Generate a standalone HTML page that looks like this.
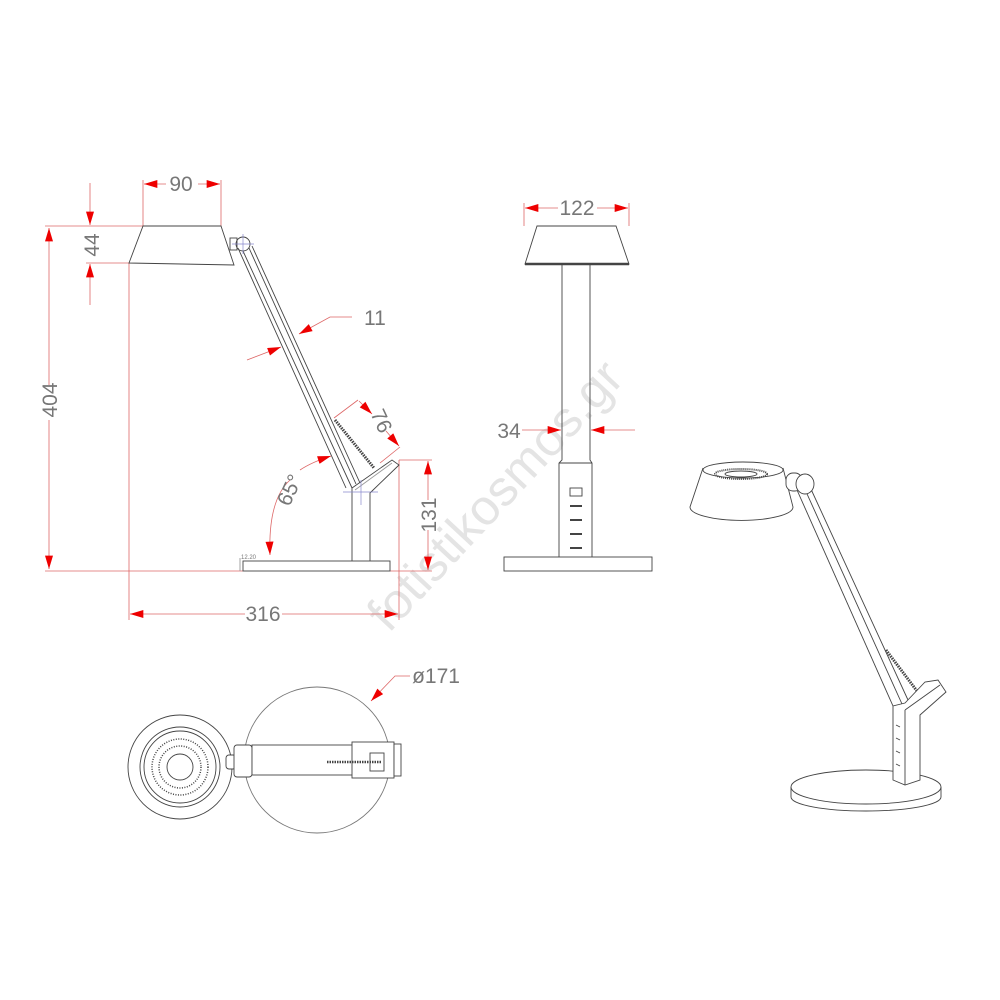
<!DOCTYPE html>
<html><head><meta charset="utf-8"><style>
html,body{margin:0;padding:0;background:#fff;}
svg{display:block;}
text{font-family:"Liberation Sans",sans-serif;fill:#777;}
</style></head><body>
<svg width="1000" height="1000" viewBox="0 0 1000 1000" xmlns="http://www.w3.org/2000/svg">
<defs>
<marker id="a" viewBox="0 0 10 6" refX="10" refY="3" markerWidth="20" markerHeight="8" orient="auto-start-reverse" markerUnits="userSpaceOnUse"><path d="M0,0 L10,3 L0,6z" fill="#e00"/></marker>
</defs>
<!-- watermark -->
<text x="500" y="510" font-size="50" style="fill:#e4e4e4" transform="rotate(-47 500 500)" text-anchor="middle">fotistikosmos.gr</text>

<g stroke="#d66" stroke-width="0.8" fill="none">
<line x1="45" y1="226" x2="143" y2="226"/>
<line x1="45" y1="571" x2="243" y2="571"/>
<line x1="143" y1="180" x2="143" y2="226"/>
<line x1="221" y1="180" x2="221" y2="226"/>
<line x1="86" y1="263" x2="129" y2="263"/>
<line x1="129" y1="263" x2="129" y2="620"/>
<line x1="399" y1="460" x2="399" y2="620"/>
<line x1="399" y1="460" x2="432" y2="460"/>
<line x1="390" y1="571" x2="432" y2="571"/>
<line x1="358" y1="400" x2="334" y2="418"/>
<line x1="400" y1="447" x2="380" y2="463"/>
<line x1="524" y1="203" x2="524" y2="226"/>
<line x1="629" y1="203" x2="629" y2="226"/>
</g>
<g stroke="#d66" stroke-width="0.8" fill="none">
<line x1="49" y1="228" x2="49" y2="385" marker-start="url(#a)"/>
<line x1="49" y1="420" x2="49" y2="569" marker-end="url(#a)"/>
<line x1="90" y1="183" x2="90" y2="225" marker-end="url(#a)"/>
<line x1="90" y1="305" x2="90" y2="264" marker-end="url(#a)"/>
<line x1="166" y1="184" x2="144" y2="184" marker-end="url(#a)"/>
<line x1="198" y1="184" x2="220" y2="184" marker-end="url(#a)"/>
<line x1="245" y1="614" x2="130" y2="614" marker-end="url(#a)"/>
<line x1="282" y1="614" x2="398" y2="614" marker-end="url(#a)"/>
<line x1="428" y1="500" x2="428" y2="461" marker-end="url(#a)"/>
<line x1="428" y1="530" x2="428" y2="570" marker-end="url(#a)"/>
<polyline points="352,317 330,317 299,334" marker-end="url(#a)"/>
<line x1="247" y1="360" x2="281" y2="347" marker-end="url(#a)"/>
<line x1="372" y1="414" x2="359" y2="401" marker-start="url(#a)"/>
<line x1="386" y1="431" x2="399" y2="446" marker-end="url(#a)"/>
<path d="M270,555 Q268,500 290,480" marker-start="url(#a)"/>
<path d="M300,470 Q312,462 331,456" marker-end="url(#a)"/>
<line x1="558" y1="208" x2="525" y2="208" marker-end="url(#a)"/>
<line x1="597" y1="208" x2="628" y2="208" marker-end="url(#a)"/>
<line x1="522" y1="430" x2="561" y2="430" marker-end="url(#a)"/>
<line x1="635" y1="430" x2="591" y2="430" marker-end="url(#a)"/>
<polyline points="410,676 395,676 371,701" marker-end="url(#a)"/>
</g>

<g font-size="21">
<text x="181" y="191" text-anchor="middle">90</text>
<text x="0" y="0" text-anchor="middle" transform="translate(99,245) rotate(-90)">44</text>
<text x="0" y="0" text-anchor="middle" transform="translate(57,400) rotate(-90)">404</text>
<text x="364" y="325">11</text>
<text x="0" y="0" text-anchor="middle" transform="translate(375,424) rotate(65)">76</text>
<text x="0" y="0" text-anchor="middle" transform="translate(296,493) rotate(-65)">65°</text>
<text x="0" y="0" text-anchor="middle" transform="translate(436,515) rotate(-90)">131</text>
<text x="263" y="621" text-anchor="middle">316</text>
<text x="577" y="215" text-anchor="middle">122</text>
<text x="509" y="438" text-anchor="middle">34</text>
<text x="436" y="683" text-anchor="middle">ø171</text>
<text x="241" y="559" font-size="6">12.20</text>
</g>

<!-- SIDE VIEW -->
<g stroke="#444" stroke-width="0.9" fill="none">
<polygon points="143,226 221,226 234,265 129,263"/>
<rect x="230" y="238" width="7" height="12"/>
<circle cx="243" cy="244" r="7"/>
<line x1="238" y1="248" x2="346" y2="488"/>
<line x1="243" y1="251" x2="352" y2="488"/>
<line x1="249" y1="248" x2="356" y2="484"/>
<line x1="252" y1="246" x2="360" y2="483"/>
<line x1="335" y1="420" x2="374" y2="468" stroke-width="3" stroke-dasharray="1.5,1"/>
<polyline points="352,561 352,488 392,460 399,465 370,493 370,561"/>
<line x1="355" y1="490" x2="392" y2="463" stroke="#999"/>
<rect x="243" y="561" width="147" height="10"/>
<line x1="240" y1="558" x2="240" y2="571" stroke="#999"/>
</g>
<g stroke="#88c" stroke-width="0.7">
<line x1="232" y1="244" x2="254" y2="244"/><line x1="243" y1="234" x2="243" y2="254"/>
<line x1="343" y1="492" x2="378" y2="492"/><line x1="361" y1="480" x2="361" y2="505"/>
</g>

<!-- FRONT VIEW -->
<g stroke="#444" stroke-width="0.9" fill="none">
<polygon points="537,226 616,226 629,264 525,264"/>
<line x1="525" y1="264" x2="629" y2="264" stroke-width="2.5"/>
<polyline points="562,265 562,460 559,463 559,557"/>
<polyline points="590,265 590,460 592,463 592,557"/>
<line x1="559" y1="463" x2="592" y2="463"/>
<rect x="570" y="488" width="12" height="8"/>
<line x1="570" y1="506" x2="582" y2="506" stroke-width="2"/>
<line x1="570" y1="520" x2="582" y2="520" stroke-width="2"/>
<line x1="570" y1="534" x2="582" y2="534" stroke-width="2"/>
<line x1="570" y1="548" x2="582" y2="548" stroke-width="2"/>
<rect x="504" y="557" width="148" height="14"/>
</g>

<!-- TOP VIEW -->
<g stroke="#444" stroke-width="0.9" fill="none">
<circle cx="180" cy="767" r="52"/>
<circle cx="180" cy="767" r="40"/>
<circle cx="180" cy="767" r="36"/>
<circle cx="180" cy="767" r="28" stroke-dasharray="1,1.5" stroke-width="1.5"/>
<circle cx="180" cy="767" r="21" stroke-dasharray="1,1.5" stroke-width="1.5"/>
<circle cx="180" cy="767" r="13"/>
<circle cx="317" cy="760" r="73" stroke="#777"/>
<rect x="226" y="755" width="10" height="14" rx="3" fill="#fff"/>
<rect x="234" y="745" width="18" height="32" rx="3" fill="#fff"/>
<rect x="252" y="745" width="148" height="30" fill="#fff"/>
<rect x="352" y="742" width="42" height="36" fill="#fff"/>
<rect x="394" y="744" width="7" height="32" fill="#fff"/>
<rect x="370" y="753" width="14" height="18"/>
<line x1="327" y1="762" x2="382" y2="762" stroke-width="2.5" stroke-dasharray="1.5,1"/>
</g>

<!-- ISO VIEW -->
<g stroke="#444" stroke-width="0.9" fill="#fff">
<path d="M703,468 L690,507 A50,13 0 0 0 793,507 L783,468"/>
<ellipse cx="743" cy="470" rx="40" ry="8"/>
<ellipse cx="741" cy="474" rx="26" ry="5" fill="none" stroke-width="2" stroke-dasharray="1,1"/>
<ellipse cx="741" cy="474" rx="16" ry="3" fill="none"/>
<line x1="797" y1="490" x2="893" y2="706"/>
<line x1="803" y1="485" x2="902" y2="704"/>
<line x1="810" y1="487" x2="908" y2="700"/>
<line x1="886" y1="650" x2="920" y2="695" stroke-width="3" stroke-dasharray="1.5,1" fill="none"/>
<rect x="786" y="473" width="16" height="18" rx="7"/>
<ellipse cx="805" cy="484" rx="9" ry="10"/>
<path d="M791,787 L791,797 A75,14 0 0 0 941,797 L941,787"/>
<ellipse cx="866" cy="787" rx="75" ry="17"/>
<path d="M893,706 L893,780 L905,785 L920,780 L920,715 L946,692 L938,680 L925,682 L905,703 Z"/>
<line x1="905" y1="710" x2="905" y2="785"/>
<line x1="905" y1="710" x2="940" y2="685"/>
<line x1="896" y1="725" x2="900" y2="727"/><line x1="896" y1="738" x2="900" y2="740"/>
<line x1="896" y1="751" x2="900" y2="753"/><line x1="896" y1="764" x2="900" y2="766"/>
</g>
</svg>
</body></html>
